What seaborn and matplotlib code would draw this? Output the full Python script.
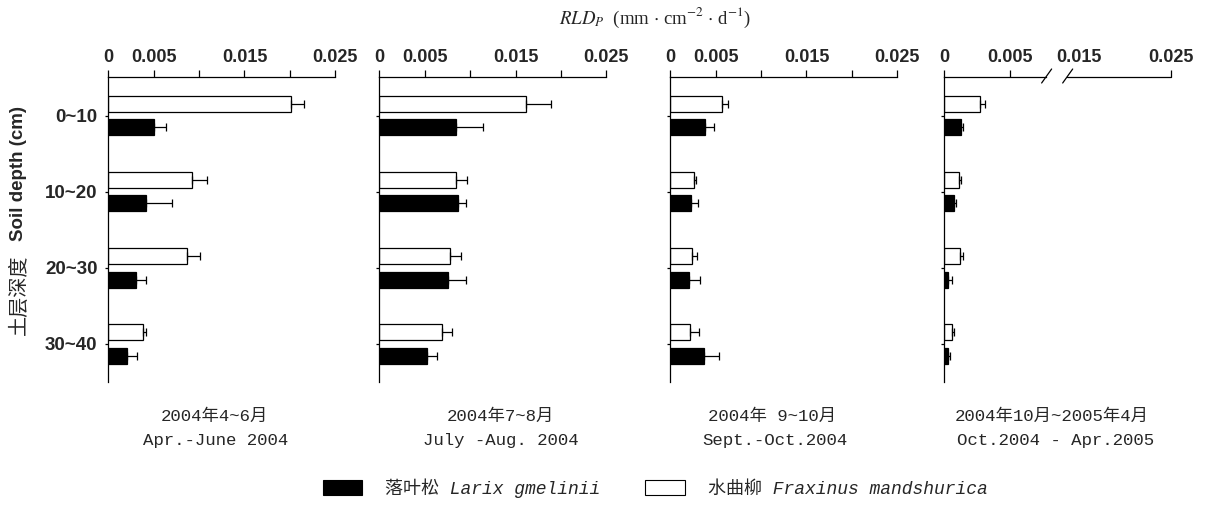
import matplotlib
matplotlib.use("Agg")
import matplotlib.pyplot as plt
import matplotlib.transforms as mtransforms
from matplotlib.patches import Patch
import numpy as np
import pandas as pd
import seaborn as sns

# ---- data -------------------------------------------------------------
depths = ["0~10", "10~20", "20~30", "30~40"]
species = ["水曲柳 Fraxinus mandshurica", "落叶松 Larix gmelinii"]

periods_cn = ["2004年4~6月", "2004年7~8月", "2004年 9~10月", "2004年10月~2005年4月"]
periods_en = ["Apr.-June 2004", "July -Aug. 2004", "Sept.-Oct.2004", "Oct.2004 - Apr.2005"]

# root length density production, mm·cm^-2·d^-1
fraxinus_mean = [
    [0.0201, 0.0092, 0.0087, 0.0038],
    [0.0162, 0.0085, 0.0078, 0.0069],
    [0.0057, 0.0026, 0.0024, 0.0022],
    [0.0027, 0.0011, 0.0012, 0.0006],
]
fraxinus_se = [
    [0.0015, 0.0017, 0.0014, 0.0003],
    [0.0027, 0.0012, 0.0012, 0.0011],
    [0.0006, 0.0002, 0.0005, 0.0010],
    [0.0004, 0.0002, 0.0002, 0.00015],
]
larix_mean = [
    [0.0050, 0.0042, 0.0030, 0.0021],
    [0.0085, 0.0087, 0.0076, 0.0053],
    [0.0038, 0.0023, 0.0021, 0.0037],
    [0.00125, 0.00074, 0.00028, 0.0003],
]
larix_se = [
    [0.0013, 0.0028, 0.0011, 0.0011],
    [0.0029, 0.0008, 0.0019, 0.0011],
    [0.0010, 0.0008, 0.0012, 0.0017],
    [0.0002, 0.00017, 0.0003, 0.0001],
]

tick_values = [0, 0.005, 0.010, 0.015, 0.020, 0.025]
tick_labels = ["0", "0.005", "", "0.015", "", "0.025"]
# last panel uses a broken axis: 0-0.005 stretched, then jump to 0.025
broken_xmax = 0.01725
broken_ticks = [0, 0.005, broken_xmax]
broken_labels = ["0", "0.005", "0.025"]
broken_mid_pos, broken_mid_label = 0.01025, "0.015"
break_at = (0.0077, 0.0093)

# ---- style ------------------------------------------------------------
sns.set_style("white")
plt.rcParams["font.family"] = ["Liberation Sans", "Noto Sans CJK SC"]
plt.rcParams["mathtext.fontset"] = "stix"

W, H = 1207, 509
fig = plt.figure(figsize=(W / 100, H / 100), dpi=100)

ax_left_px = [108.3, 379.3, 670.3, 944.3]
ax_w_px = 227.0
ax_top_px, ax_bot_px = 77.0, 382.0

colors = {species[0]: "white", species[1]: "black"}
caption1_x = [214, 500, 772, 1052]
caption2_x = [216, 501, 775, 1056]
mono_cjk = ["Liberation Mono", "Noto Sans CJK SC"]

for i in range(4):
    ax = fig.add_axes([ax_left_px[i] / W, 1 - ax_bot_px / H,
                       ax_w_px / W, (ax_bot_px - ax_top_px) / H])
    rows = []
    for d, v in zip(depths, fraxinus_mean[i]):
        rows.append({"depth": d, "species": species[0], "value": v})
    for d, v in zip(depths, larix_mean[i]):
        rows.append({"depth": d, "species": species[1], "value": v})
    df = pd.DataFrame(rows)

    sns.barplot(data=df, y="depth", x="value", hue="species",
                order=depths, hue_order=species, palette=colors,
                orient="h", width=0.61, gap=0.31, edgecolor="black",
                linewidth=0.9, legend=False, errorbar=None, ax=ax)

    # one-sided standard error bars
    for cont, errs in zip(ax.containers, [fraxinus_se[i], larix_se[i]]):
        xs = [p.get_width() for p in cont.patches]
        ys = [p.get_y() + p.get_height() / 2 for p in cont.patches]
        ax.errorbar(xs, ys, xerr=[np.zeros(len(errs)), errs], fmt="none",
                    ecolor="black", elinewidth=0.9, capsize=2.6,
                    capthick=0.9, zorder=3)

    ax.set_ylim(3.5, -0.51)
    ax.set_xlabel("")
    ax.set_ylabel("")
    for s in ["right", "bottom"]:
        ax.spines[s].set_visible(False)
    for s in ["top", "left"]:
        ax.spines[s].set_color("black")
        ax.spines[s].set_linewidth(0.9)

    ax.xaxis.set_ticks_position("top")
    ax.xaxis.set_label_position("top")
    ax.tick_params(axis="x", which="major", direction="out", length=4.8,
                   width=0.9, color="black", pad=2.8, labelsize=13,
                   top=True, bottom=False, labeltop=True, labelbottom=False)
    ax.tick_params(axis="y", direction="out", length=2.2, width=0.9,
                   color="black", pad=5.5, labelsize=13.5, left=True)

    if i < 3:
        ax.set_xlim(0, 0.025)
        ax.set_xticks(tick_values, tick_labels)
    else:
        ax.set_xlim(0, broken_xmax)
        ax.set_xticks(broken_ticks, broken_labels)
        ax.set_xticks([broken_mid_pos], [broken_mid_label], minor=True)
        ax.tick_params(axis="x", which="minor", length=0, pad=2.8 + 4.8,
                       labelsize=13, top=True, bottom=False,
                       labeltop=True, labelbottom=False)
        # broken top axis line with two slashes
        ax.spines["top"].set_bounds(0, break_at[0])
        tr = mtransforms.blended_transform_factory(ax.transData, ax.transAxes)
        ax.plot([break_at[1], broken_xmax], [1, 1], color="black", lw=0.9,
                transform=tr, clip_on=False)
        span = broken_xmax / ax_w_px  # data units per pixel
        yspan = 1 / (ax_bot_px - ax_top_px)
        for bx in break_at:
            ax.plot([bx - 4 * span, bx + 6 * span],
                    [1 - 6 * yspan, 1 + 8 * yspan], color="black", lw=0.9,
                    transform=tr, clip_on=False)

    for lab in ax.get_xticklabels(which="both"):
        lab.set_fontweight("bold")
    if i == 0:
        ax.set_yticks(range(len(depths)), depths)
        for lab in ax.get_yticklabels():
            lab.set_fontweight("bold")
    else:
        ax.set_yticks(range(len(depths)), [""] * len(depths))

    fig.text(caption1_x[i] / W, 1 - 416 / H, periods_cn[i], ha="center",
             va="center", fontsize=12.5, family=mono_cjk)
    fig.text(caption2_x[i] / W, 1 - 440 / H, periods_en[i], ha="center",
             va="center", fontsize=12.5, family=mono_cjk)

# top axis title
fig.text(655 / W, 1 - 18 / H,
         r"$RLD_P$  (mm $\cdot$ cm$^{-2}$ $\cdot$ d$^{-1}$)",
         ha="center", va="center", fontsize=13.5, family="Liberation Serif")

# y axis title: Chinese + English
fig.text(19 / W, 1 - 295 / H, "土层深度", rotation=90, ha="center",
         va="center", fontsize=14.5, family=["Noto Sans CJK SC"],
         fontweight="light")
fig.text(19 / W, 1 - 173 / H, "Soil depth (cm)", rotation=90, ha="center",
         va="center", fontsize=13.5, fontweight="bold",
         family=["Liberation Sans"])

handles = [Patch(facecolor="black", edgecolor="black", lw=0.8),
           Patch(facecolor="white", edgecolor="black", lw=0.8)]
labels = ["落叶松 Larix gmelinii", "水曲柳 Fraxinus mandshurica"]
fig.legend(handles, labels, loc="center", bbox_to_anchor=(655 / W, 1 - 488 / H),
           ncol=2, frameon=False, handlelength=2.2, handleheight=0.83,
           handletextpad=1.25, columnspacing=2.5,
           prop={"family": mono_cjk, "style": "italic", "size": 13})

fig.savefig("out.png", dpi=100, facecolor="white")
